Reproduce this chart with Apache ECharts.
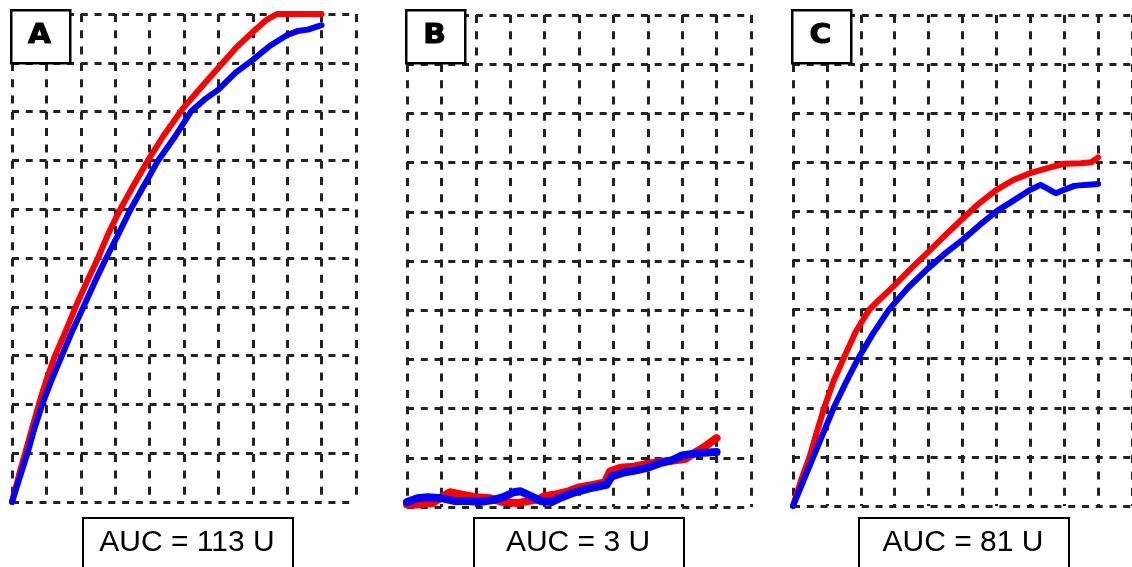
<!DOCTYPE html>
<html><head><meta charset="utf-8">
<script src="https://cdn.jsdelivr.net/npm/echarts@6/dist/echarts.min.js"></script>
<style>html,body{margin:0;padding:0;background:#fff}#c{width:1132px;height:567px}</style>
</head><body><div id="c"></div>
<script>
// ---- text ----
const panelLabels = ['A', 'B', 'C'];
const aucLabels = ['AUC = 113 U', 'AUC = 3 U', 'AUC = 81 U'];

// ---- data: [x, y] in grid units (10 x 10 grid cells) ----
const redA = [[0,0],[0.2,0.55],[0.4,1.05],[0.6,1.55],[0.8,2.05],[1.0,2.5],[1.25,3.0],[1.5,3.4],[1.85,4.0],[2.2,4.55],[2.5,5.0],[2.8,5.5],[3.15,6.0],[3.5,6.45],[3.95,7.0],[4.4,7.5],[4.95,8.05],[5.5,8.5],[6.0,8.9],[6.5,9.3],[7.0,9.63],[7.4,9.88],[7.7,10.0],[8.0,10.0],[8.5,10.0],[9.0,10.0]];
const blueA = [[0,0],[0.2,0.45],[0.45,1.0],[0.65,1.5],[0.88,2.0],[1.15,2.5],[1.45,3.0],[1.75,3.5],[2.08,4.0],[2.4,4.5],[2.74,5.0],[3.1,5.5],[3.45,6.0],[3.85,6.5],[4.25,7.0],[4.75,7.5],[5.2,8.0],[5.6,8.25],[6.0,8.45],[6.5,8.8],[7.0,9.06],[7.5,9.35],[8.0,9.57],[8.3,9.65],[8.6,9.68],[9.0,9.77]];

const redB = [[0,0.05],[0.3,0.05],[0.75,0.08],[1.0,0.2],[1.25,0.3],[1.6,0.25],[2.0,0.2],[2.4,0.18],[2.8,0.1],[3.2,0.08],[3.5,0.12],[3.8,0.15],[4.0,0.22],[4.36,0.26],[4.7,0.32],[5.0,0.4],[5.4,0.45],[5.75,0.5],[5.9,0.72],[6.2,0.8],[6.6,0.82],[7.0,0.88],[7.4,0.92],[7.8,0.95],[8.1,0.98],[8.4,1.12],[8.6,1.2],[8.8,1.3],[9.0,1.4]];
const blueB = [[0,0.1],[0.3,0.18],[0.6,0.2],[1.0,0.18],[1.4,0.12],[1.8,0.12],[2.1,0.1],[2.5,0.14],[2.8,0.2],[3.1,0.3],[3.3,0.32],[3.6,0.22],[3.9,0.12],[4.2,0.1],[4.5,0.2],[4.8,0.28],[5.3,0.38],[5.8,0.45],[5.95,0.62],[6.3,0.7],[6.7,0.75],[7.0,0.8],[7.35,0.89],[7.7,0.95],[8.0,1.05],[8.3,1.08],[8.6,1.1],[9.0,1.12]];

const redC = [[0,0],[0.25,0.55],[0.49,1.0],[0.7,1.5],[0.92,2.0],[1.2,2.55],[1.52,3.05],[1.85,3.55],[2.25,4.0],[2.5,4.17],[3.0,4.5],[3.5,4.85],[4.0,5.18],[4.5,5.52],[5.0,5.85],[5.5,6.17],[6.0,6.44],[6.5,6.64],[7.0,6.78],[7.5,6.88],[8.0,6.97],[8.5,6.98],[8.8,7.0],[9.0,7.1]];
const blueC = [[0,0],[0.3,0.5],[0.6,1.0],[0.9,1.5],[1.2,2.0],[1.55,2.5],[1.92,3.0],[2.35,3.5],[2.83,4.0],[3.4,4.45],[4.0,4.85],[4.5,5.15],[5.0,5.42],[5.5,5.72],[6.0,6.0],[6.5,6.22],[7.0,6.44],[7.3,6.54],[7.55,6.45],[7.75,6.37],[8.0,6.44],[8.3,6.52],[8.6,6.54],[9.0,6.56]];

const redSeries = [redA, redB, redC];
const blueSeries = [blueA, blueB, blueC];

// ---- layout (pixels) ----
const layout = [
  {left: 12,  top: 14, height: 488, aucLeft: 82,  lw: 6},
  {left: 407, top: 15, height: 492, aucLeft: 473, lw: 8},
  {left: 793, top: 15, height: 491, aucLeft: 858, lw: 6}
];
const GRID_W = 344;

const chart = echarts.init(document.getElementById('c'), null, {renderer: 'canvas'});
const grids = [], xAxes = [], yAxes = [], series = [], graphics = [];
const gridColor = '#222';

layout.forEach((p, i) => {
  grids.push({left: p.left, top: p.top, width: GRID_W, height: p.height, containLabel: false});
  xAxes.push({
    type: 'value', gridIndex: i, min: 0, max: 10, interval: 1,
    axisLine: {show: false}, axisTick: {show: false}, axisLabel: {show: false},
    splitLine: {show: true, lineStyle: {color: gridColor, width: 3, type: [8, 8.3]}}
  });
  yAxes.push({
    type: 'value', gridIndex: i, min: 0, max: 10, interval: 1,
    axisLine: {show: false}, axisTick: {show: false}, axisLabel: {show: false},
    splitLine: {show: true, lineStyle: {color: gridColor, width: 3, type: [7, 6.76]}}
  });
  series.push({
    type: 'line', xAxisIndex: i, yAxisIndex: i, data: redSeries[i],
    showSymbol: false, smooth: false, clip: false,
    lineStyle: {color: '#ff0000', width: p.lw, join: 'round', cap: 'round'}, z: 3
  });
  series.push({
    type: 'line', xAxisIndex: i, yAxisIndex: i, data: blueSeries[i],
    showSymbol: false, smooth: false, clip: false,
    lineStyle: {color: '#0000ff', width: p.lw, join: 'round', cap: 'round'}, z: 4
  });
  // panel letter box
  graphics.push({
    type: 'rect', left: p.left - 2, top: 9, z: 100, zlevel: 1,
    shape: {width: 59, height: 53},
    style: {fill: '#fff', stroke: '#000', lineWidth: 2.5}
  });
  graphics.push({
    type: 'text', x: p.left - 2 + 29.5, y: 36, z: 101, zlevel: 1, scaleX: 1.1,
    style: {text: panelLabels[i], fill: '#000', stroke: '#000', lineWidth: 1,
            font: 'bold 27px "DejaVu Sans"', align: 'center', verticalAlign: 'middle'}
  });
  // AUC box
  graphics.push({
    type: 'rect', left: p.aucLeft, top: 517, z: 100, zlevel: 1,
    shape: {width: 210, height: 70},
    style: {fill: '#fff', stroke: '#000', lineWidth: 2}
  });
  graphics.push({
    type: 'text', x: p.aucLeft + 105, y: 543, z: 101, zlevel: 1,
    style: {text: aucLabels[i], fill: '#000',
            font: '30px "Liberation Sans", Arial, sans-serif', align: 'center', verticalAlign: 'middle'}
  });
});

chart.setOption({
  animation: false,
  backgroundColor: '#fff',
  grid: grids, xAxis: xAxes, yAxis: yAxes, series: series, graphic: graphics
});
</script>
</body></html>
